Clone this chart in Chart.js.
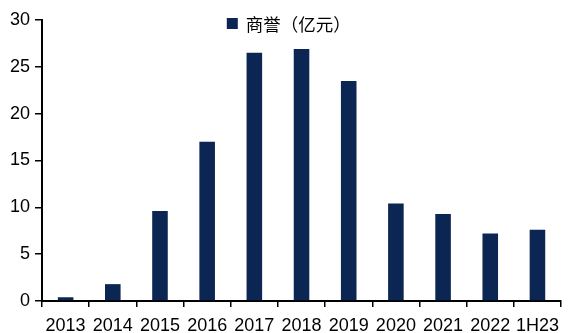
<!DOCTYPE html>
<html>
<head>
<meta charset="utf-8">
<script src="https://cdn.jsdelivr.net/npm/chart.js@4"></script>
<style>
  html, body { margin: 0; padding: 0; background: #fff; }
  #wrap { width: 569px; height: 333px; }
</style>
</head>
<body>
<div id="wrap"><canvas id="myChart"></canvas></div>
<script>
// 年份和商誉规模
let years = ["2013", "2014", "2015", "2016", "2017", "2018", "2019", "2020", "2021", "2022", "1H23"];
let goodwill = [0.4, 1.8, 9.6, 17.0, 26.5, 26.9, 23.5, 10.4, 9.3, 7.2, 7.6];
let seriesName = "商誉（亿元）";
let yTicks = [0, 5, 10, 15, 20, 25, 30];

const navy = "#0b2652";
const tickFont = { family: "'Liberation Sans', Arial, sans-serif", size: 18, lineHeight: 1 };

// 图例画在绘图区内部顶端，略偏左
const innerLegend = {
  id: "innerLegend",
  afterDraw(chart) {
    const ctx = chart.ctx;
    const ds = chart.data.datasets[0];
    const area = chart.chartArea;
    ctx.save();
    ctx.font = "17.5px 'Noto Sans CJK SC', sans-serif";
    const box = 11, gap = 8;
    const x0 = area.left + (area.right - area.left) * 0.356;
    const y = area.top + 3;
    ctx.fillStyle = ds.backgroundColor;
    ctx.fillRect(x0, y - 5, box, box);
    ctx.fillStyle = "#000";
    ctx.textBaseline = "middle";
    ctx.fillText(ds.label, x0 + box + gap, y + 1);
    ctx.restore();
  },
};

let myBarChart = new Chart("myChart", {
  type: "bar",
  data: {
    labels: years,
    datasets: [
      {
        label: seriesName,
        backgroundColor: navy,
        data: goodwill,
        barPercentage: 0.33,
        categoryPercentage: 1,
      },
    ],
  },
  plugins: [innerLegend],
  options: {
    responsive: true,
    maintainAspectRatio: false,
    animation: false,
    layout: { padding: { top: 20, right: 1, left: 5, bottom: 0 } },
    plugins: {
      legend: { display: false },
      tooltip: { enabled: false },
    },
    scales: {
      x: {
        afterFit: (scale) => {
          scale.height = 32;
        },
        grid: {
          offset: true,
          drawOnChartArea: false,
          drawTicks: true,
          tickLength: 6,
          color: "#000",
          lineWidth: 1.5,
        },
        border: { color: "#000", width: 2 },
        ticks: { color: "#000", font: tickFont, padding: 10, maxRotation: 0, autoSkip: false },
      },
      y: {
        min: 0,
        max: 30,
        afterBuildTicks: (axis) => {
          axis.ticks = yTicks.map((v) => ({ value: v }));
        },
        grid: {
          drawOnChartArea: false,
          drawTicks: true,
          tickLength: 7,
          color: "#000",
          lineWidth: 1.5,
        },
        border: { color: "#000", width: 2 },
        ticks: { color: "#000", font: tickFont, padding: 5 },
      },
    },
  },
});
</script>
</body>
</html>
